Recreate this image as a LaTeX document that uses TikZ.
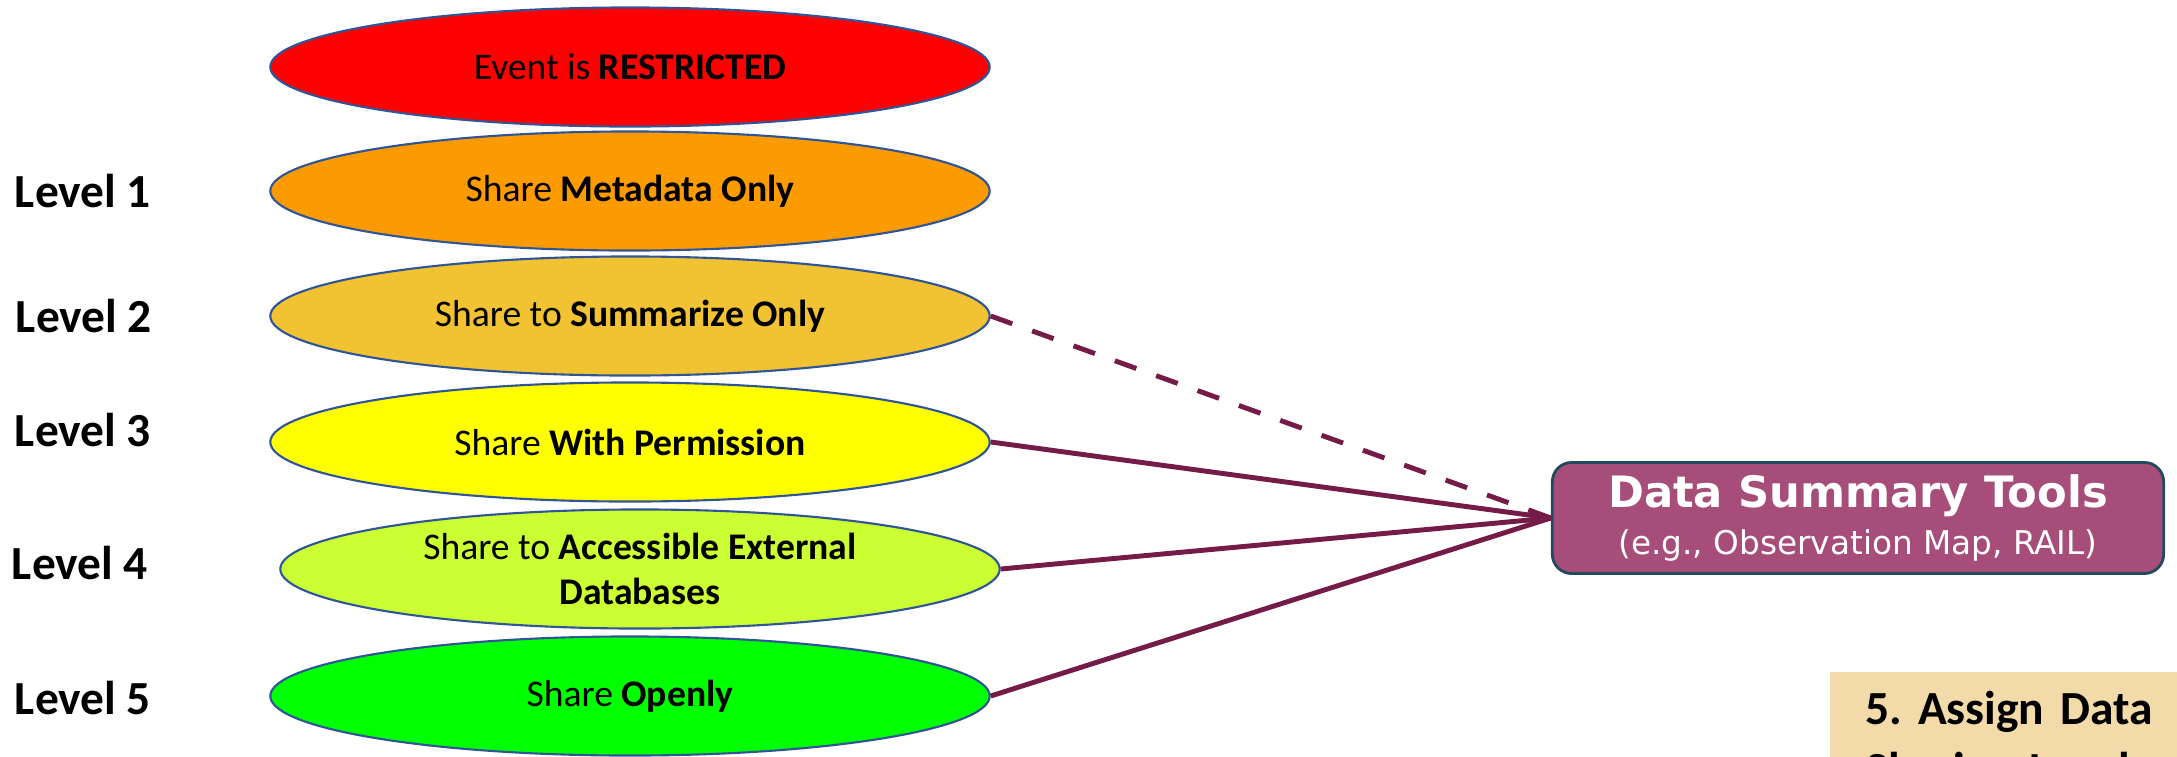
\documentclass[tikz,border=0pt]{standalone}
\usepackage{fontspec}
\setmainfont{Carlito}
\newfontfamily\dvsans{DejaVu Sans}
\usetikzlibrary{shapes.geometric}
\definecolor{ellborder}{HTML}{2F5597}
\definecolor{cRed}{HTML}{FF0000}
\definecolor{cOrange}{HTML}{FB9B00}
\definecolor{cGold}{HTML}{F1C232}
\definecolor{cYellow}{HTML}{FFFF00}
\definecolor{cLime}{HTML}{CCFF33}
\definecolor{cGreen}{HTML}{00FF00}
\definecolor{connc}{HTML}{741B47}
\definecolor{boxfill}{HTML}{A64D79}
\definecolor{boxborder}{HTML}{234A5C}
\definecolor{tanfill}{HTML}{F3DBA9}
\frenchspacing
\tikzset{
  lvl/.style={font=\fontsize{13.5}{16}\selectfont\bfseries, inner sep=0pt},
  oval/.style={ellipse, draw=ellborder, line width=0.6pt, minimum width=7.19cm, minimum height=1.19cm, inner sep=0pt, align=center, font=\fontsize{10.7}{13}\selectfont},
  conn/.style={draw=connc, line width=1.4pt},
  dashconn/.style={conn, dash pattern=on 6.5pt off 6pt},
  dstbox/.style={rectangle, rounded corners=5.5pt, draw=boxborder, line width=0.8pt, fill=boxfill, minimum width=6.11cm, minimum height=1.11cm, inner sep=0pt, align=center, text=white},
  tanbox/.style={rectangle, fill=tanfill, anchor=north west, inner xsep=10.2pt, inner ysep=5.5pt, align=left, text width=4cm, font=\fontsize{13.5}{17.4}\selectfont\bfseries}
}
\begin{document}
\begin{tikzpicture}[x=0.01cm, y=-0.01cm]
\useasboundingbox (0,0) rectangle (2177,757);

\node[lvl] (L1) at (83,191) {Level 1};
\node[lvl] (L2) at (84,316) {Level 2};
\node[lvl] (L3) at (83,430) {Level 3};
\node[lvl] (L4) at (80,563) {Level 4};
\node[lvl] (L5) at (83,698) {Level 5};

\node[oval, fill=cRed] (E0) at (630,67) {Event is \textbf{RESTRICTED}};
\node[oval, fill=cOrange] (E1) at (630,191) {Share \textbf{Metadata Only}};
\node[oval, fill=cGold] (E2) at (630,316) {Share to \textbf{Summarize Only}};
\node[oval, fill=cYellow] (E3) at (630,442) {Share \textbf{With Permission}};
\node[oval, fill=cLime] (E4) at (640,569) {Share to \textbf{Accessible External}\\\textbf{Databases}};
\node[oval, fill=cGreen] (E5) at (630,696) {Share \textbf{Openly}};

\node[dstbox] (D) at (1858,518) {\dvsans\fontsize{12.3}{13}\selectfont\bfseries Data Summary Tools\\[1.5pt]\dvsans\fontsize{9.3}{10}\selectfont (e.g., Observation Map, RAIL)};

\draw[dashconn] (E2.east) -- (D.west);
\draw[conn] (E3.east) -- (D.west);
\draw[conn] (E4.east) -- (D.west);
\draw[conn] (E5.east) -- (D.west);

\begin{scope}
\clip (0,0) rectangle (2177,757);
\node[tanbox] (T) at (1829,671) {5. Assign Data\\Sharing Levels};
\end{scope}
\end{tikzpicture}
\end{document}
